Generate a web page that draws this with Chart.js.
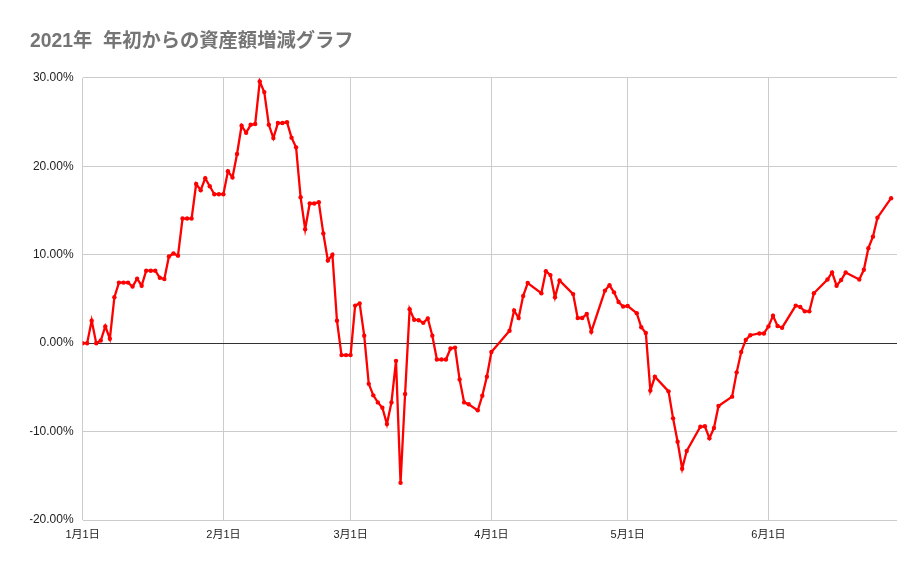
<!DOCTYPE html>
<html lang="ja">
<head>
<meta charset="utf-8">
<title>2021年 年初からの資産額増減グラフ</title>
<script src="https://cdn.jsdelivr.net/npm/chart.js@4/dist/chart.umd.min.js"></script>
<style>
  html, body { margin: 0; padding: 0; background: #fff; }
  #wrap { width: 921px; height: 569px; }
</style>
</head>
<body>
<div id="wrap"><canvas id="chart" width="921" height="569"></canvas></div>
<script>
// --- DONNÉES (jour = nombre de jours depuis le 1er janvier 2021) ---
const days = [
  0, 1, 2, 3, 4, 5, 6, 7, 8, 9, 10, 11, 12, 13, 14, 15, 16, 17, 18, 19,
  20, 21, 22, 23, 24, 25, 26, 27, 28, 29, 30, 31, 32, 33, 34, 35, 36, 37, 38, 39,
  40, 41, 42, 43, 44, 45, 46, 47, 48, 49, 50, 51, 52, 53, 54, 55, 56, 57, 58, 59,
  60, 61, 62, 63, 64, 65, 66, 67, 68, 69, 70, 71, 72, 73, 74, 75, 76, 77, 78, 79,
  80, 81, 82, 83, 84, 85, 87, 88, 89, 90, 94, 95, 96, 97, 98, 101, 102, 103, 104, 105,
  108, 109, 110, 111, 112, 115, 116, 117, 118, 119, 120, 122, 123, 124, 125, 126, 129, 130, 131, 132,
  133, 136, 137, 138, 139, 140, 143, 144, 145, 146, 147, 149, 150, 151, 152, 153, 154, 157, 158, 159,
  160, 161, 164, 165, 166, 167, 168, 171, 172, 173, 174, 175, 178
];

// Variation en % depuis le début de l'année
const changes = [
  0, 0, 2.55, 0, 0.3, 1.9, 0.5, 5.2, 6.85, 6.85, 6.85, 6.4, 7.3, 6.5, 8.2, 8.2, 8.2, 7.4, 7.25, 9.8,
  10.15, 9.9, 14.1, 14.1, 14.1, 18.0, 17.3, 18.65, 17.75, 16.85, 16.85, 16.85, 19.45, 18.75, 21.4, 24.6, 23.8, 24.7, 24.8, 29.6,
  28.4, 24.7, 23.2, 24.9, 24.9, 25.0, 23.25, 22.15, 16.5, 12.9, 15.8, 15.8, 15.95, 12.4, 9.35, 10.0, 2.55, -1.35, -1.35, -1.35,
  4.25, 4.5, 0.85, -4.6, -5.9, -6.7, -7.3, -9.15, -6.7, -2.0, -15.8, -5.75, 3.85, 2.65, 2.6, 2.3, 2.8, 0.85, -1.85, -1.85,
  -1.85, -0.6, -0.5, -4.1, -6.7, -6.9, -7.6, -5.95, -3.8, -1.0, 1.4, 3.7, 2.85, 5.35, 6.8, 5.65, 8.15, 7.7, 5.2, 7.1,
  5.55, 2.85, 2.85, 3.3, 1.3, 5.95, 6.55, 5.75, 4.65, 4.15, 4.2, 3.4, 1.8, 1.15, -5.35, -3.8, -5.45, -8.5, -11.15, -14.2,
  -12.2, -9.45, -9.4, -10.75, -9.6, -7.1, -6.05, -3.3, -1.0, 0.37, 0.9, 1.1, 1.1, 1.9, 3.1, 1.95, 1.75, 4.25, 4.1, 3.6,
  3.6, 5.65, 7.2, 8.0, 6.5, 7.15, 8.0, 7.2, 8.3, 10.75, 12.05, 14.2, 16.4
];

// Graduations de l'axe X (début de chaque mois)
const monthTicks = [0, 31, 59, 90, 120, 151];
const monthLabels = ['1月1日', '2月1日', '3月1日', '4月1日', '5月1日', '6月1日'];

// Graduations de l'axe Y
const yMin = -20;
const yMax = 30;
const yStep = 10;

const FONT = "'Liberation Sans', Arial, 'Noto Sans CJK JP', sans-serif";

const points = days.map((d, i) => ({ x: d, y: changes[i] }));

new Chart(document.getElementById('chart'), {
    type: 'line',
    data: {
        datasets: [{
            label: '資産額増減',
            data: points,
            borderColor: '#ff0000',
            backgroundColor: '#ff0000',
            borderWidth: 2.3,
            pointRadius: 2.2,
            pointBorderWidth: 0,
            pointBackgroundColor: '#ff0000',
            tension: 0
        }]
    },
    options: {
        responsive: false,
        animation: false,
        layout: { padding: { left: 30, right: 24, top: 0, bottom: 0 } },
        plugins: {
            legend: { display: false },
            tooltip: { enabled: false },
            title: {
                display: true,
                text: '2021年  年初からの資産額増減グラフ',
                align: 'start',
                color: '#757575',
                font: { family: FONT, size: 19.3, weight: 'bold' },
                padding: { top: 30, bottom: 24.8 }
            }
        },
        scales: {
            x: {
                type: 'linear',
                min: 0,
                max: 179.3,
                afterBuildTicks: (scale) => {
                    scale.ticks = monthTicks.map(v => ({ value: v }));
                },
                afterFit: (scale) => { scale.height = 49; },
                ticks: {
                    autoSkip: false,
                    maxRotation: 0,
                    padding: 8,
                    color: '#222',
                    font: { family: FONT, size: 11 },
                    callback: (v, i) => monthLabels[i]
                },
                grid: { color: '#cccccc', drawTicks: false },
                border: { display: false }
            },
            y: {
                min: yMin,
                max: yMax,
                afterFit: (scale) => { scale.width = 52.6; },
                ticks: {
                    stepSize: yStep,
                    padding: 9,
                    color: '#222',
                    font: { family: FONT, size: 12 },
                    callback: (v) => v.toFixed(2) + '%'
                },
                grid: {
                    drawTicks: false,
                    color: (ctx) => (ctx.tick && ctx.tick.value === 0) ? '#333333' : '#cccccc'
                },
                border: { display: false }
            }
        }
    }
});
</script>
</body>
</html>
